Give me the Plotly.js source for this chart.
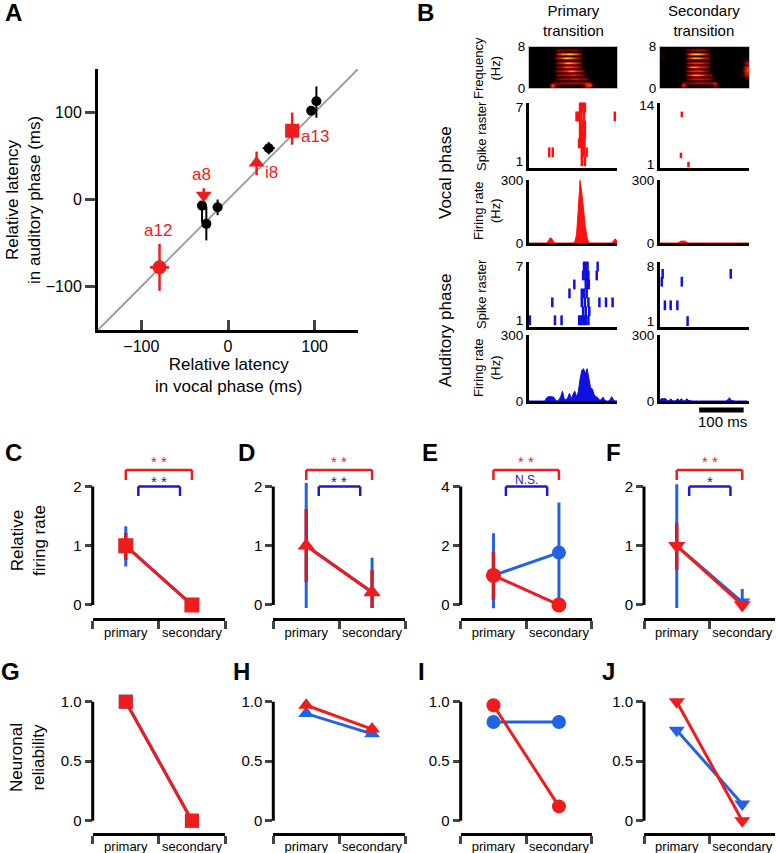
<!DOCTYPE html>
<html>
<head>
<meta charset="utf-8">
<script src="https://cdn.plot.ly/plotly-3.0.1.min.js"></script>
<style>body{margin:0;background:#fff}#plot{width:776px;height:853px}</style>
</head>
<body>
<div id="plot"></div>
<script>
var W = 776, H = 853;
var FONT = "Liberation Sans, Arial, sans-serif";
var RED = "#ee1c1c", BLUE = "#2262e4", DBLUE = "#1a1ad0", ERRRED = "#c8202e";

// ---- A: relative latency (ms) ----
var latVocalBlack = [102, 96, 47, -12, -30, -25];
var latAudBlack = [113, 102, 59, -9, -7, -28];
var errAudBlackUp = [17, 5, 7, 9, 5, 20];
var errAudBlackDn = [19, 5, 7, 9, 19, 19];
var errVocBlack = [0, 0, 7, 0, 5, 0];
var redNames = ["a12", "a8", "i8", "a13"];
var latVocalRed = [-79, -28, 33, 74];
var latAudRed = [-78, 5, 42, 79];
var errAudRedUp = [27, 8, 13, 21];
var errAudRedDn = [27, 5, 14, 16];
var errVocRed = [11, 0, 0, 0];
var redSymbols = ["circle", "triangle-down", "triangle-up", "square"];

// ---- B: spectrograms (rows bottom->top, 0..8 kHz; cols -100..100 ms) ----
var specPrim = [
  "0000003100000001300000000",
  "0000007321111112670000000",
  "0000002334444444530000000",
  "0000001111111111110000000",
  "0000000234445544300000000",
  "0000000111111111100000000",
  "0000000244556543000000000",
  "0000000111111111000000000",
  "0000000345688653000000000",
  "0000000111111111000000000",
  "0000000245776540000000000",
  "0000000111111110000000000",
  "0000000256897640000000000",
  "0000000111111110000000000",
  "0000000357987530000000000",
  "0000000121121110000000000",
  "0000000268898740000000000",
  "0000000121111110000000000",
  "0000000233333320000000000",
  "0000000111111110000000000"
];
var specSec = [
  "0000002000000002000000000",
  "0000006211111114000000000",
  "0000003334444445000000000",
  "0000001111111111000000000",
  "0000000245554430000000001",
  "0000000111111110000000013",
  "0000000368875430000000034",
  "0000000111111110000000025",
  "0000000356664300000000036",
  "0000000111111100000000026",
  "0000000378765400000000035",
  "0000000111111100000000013",
  "0000000356664400000000024",
  "0000000111111100000000012",
  "1000000368875400000000011",
  "1000000121111100000000000",
  "1000000379986400000000000",
  "0000000111111100000000000",
  "0000000234443200000000000",
  "0000000111111100000000000"
];

// spike rasters: time (ms) and trial
var rastVocPrimT = [16,20,23,27, 8,11,15,19,25,95, 16,20,24,27, 16,20,24,27, 14,18,22,26, -54,-46,20,25,31, 20,27];
var rastVocPrimN = [7,7,7,7, 6,6,6,6,6,6, 5,5,5,5, 4,4,4,4, 3,3,3,3, 2,2,2,2,2, 1,1];
var rastVocSecT = [-51, -53, -36];
var rastVocSecN = [12, 3, 1];
var rastAudPrimT = [25,29,33,56, 23,28,31,35,54, 3,29,33,36, -8,20,25,31, -47,20,27,35,60,75,90, 23,29,37, -98,-41,-26,14,17,21,25,29,35];
var rastAudPrimN = [7,7,7,7, 6,6,6,6,6, 5,5,5,5, 4,4,4,4, 3,3,3,3,3,3,3, 2,2,2, 1,1,1,1,1,1,1,1,1];
var rastAudSecT = [-94, 59, -96, -51, -89, -76, -61, -38];
var rastAudSecN = [7, 7, 6, 6, 3, 3, 3, 1];

// firing rate (Hz), 4 ms bins
var tBins = [-100,-96,-92,-88,-84,-80,-76,-72,-68,-64,-60,-56,-52,-48,-44,-40,-36,-32,-28,-24,-20,-16,-12,-8,-4,0,4,8,12,16,20,24,28,32,36,40,44,48,52,56,60,64,68,72,76,80,84,88,92,96,100];
var frVocPrim = [0,0,0,0,0,0,0,0,0,0,0, 10,25,20,5, 0,0,0,0,0,0,0,0,0,0,0, 5,40,160,300,240,150,80,25, 0,0,0,0,0,0,0,0,0,0,0,0,0,0, 10,20,10];
var frVocSec = [0,0,0,0,0,0,0,0,0,0,0, 5,10,8,10,4, 0,0,0,0,0,0,0,0,0,0,0,0,0,0,0,0,0,0,0,0,0,0,0,0,0,0,0,0,0,0,0,0,0,0,0];
var frAudPrim = [0,0,0,0,0,0,0,0,0,0, 15,20,20,20,18,5,0,5,20,45,10,5,15,35,10,30,45,20,40,100,140,148,125,148,100,60,55,30,20,15,5,5,18,5,0,0,5,20,5,0,0];
var frAudSec = [5,12,10,12,3,0,10,2,0,3,10,2,10,2,0,10,3, 0,0,0,0,0,0,0,0,0,0,0,0,0,0,0,0,0,0,0,0,0, 5,15,3, 0,0,0,0,0,0,0,0,0];

// ---- C-J ----
var cats = ["primary", "secondary"];
var neuronSymbols = ["square", "triangle-up", "circle", "triangle-down"];
var frRed = [[1, 0], [1, 0.21], [1, 0], [1, 0]];
var frRedUp = [[0.22, 0], [0.62, 0.38], [0.8, 0], [0.39, 0]];
var frRedDn = [[0.24, 0], [0.61, 0.26], [0.83, 0], [0.41, 0]];
var frBlue = [[1, 0], [1, 0.22], [1, 1.77], [1, 0.05]];
var frBlueUp = [[0.33, 0], [1.06, 0.58], [1.42, 1.69], [1.04, 0.22]];
var frBlueDn = [[0.35, 0], [1.05, 0.27], [1.11, 1.77], [1.05, 0.05]];
var frTop = [2, 2, 4, 2];
var sigRed = ["* *", "* *", "* *", "* *"];
var sigBlue = ["* *", "* *", "N.S.", "*"];
var relRed = [[1, 0], [0.97, 0.77], [0.97, 0.12], [1, 0]];
var relBlue = [[1, 0], [0.9, 0.73], [0.83, 0.83], [0.76, 0.14]];

function dx(a, b) { return [a / W, b / W]; }
function dy(top, bot) { return [1 - bot / H, 1 - top / H]; }

var layout = {
  width: W, height: H, margin: {l: 0, r: 0, t: 0, b: 0},
  showlegend: false, paper_bgcolor: "#fff", plot_bgcolor: "rgba(0,0,0,0)",
  font: {family: FONT, color: "#000"},
  shapes: [], annotations: []
};
var data = [];

function ann(text, x, y, size, extra) {
  var a = {text: text, xref: "paper", yref: "paper", x: x / W, y: 1 - y / H,
    showarrow: false, xanchor: "center", yanchor: "middle",
    font: {family: FONT, size: size, color: "#000"}};
  for (var k in extra) a[k] = extra[k];
  layout.annotations.push(a);
}
function letter(t, x, y) {
  ann("<b>" + t + "</b>", x, y, 24);
}

// ---- panel A ----
layout.xaxis = {domain: dx(98, 358), anchor: "y", range: [-150, 150], tickvals: [-100, 0, 100],
  ticks: "inside", ticklen: 10, tickwidth: 3, showline: true, linewidth: 3, linecolor: "#000",
  zeroline: false, showgrid: false, tickfont: {size: 16}};
layout.yaxis = {domain: dy(69, 330), anchor: "x", range: [-150, 150], tickvals: [-100, 0, 100],
  ticks: "outside", ticklen: 10, tickwidth: 3, showline: true, linewidth: 3, linecolor: "#000",
  zeroline: false, showgrid: false, tickfont: {size: 16}};
layout.shapes.push({type: "line", xref: "x", yref: "y", x0: -150, y0: -150, x1: 150, y1: 150,
  layer: "below", line: {color: "#a0a0a0", width: 2}});
data.push({type: "scatter", mode: "markers", x: latVocalBlack, y: latAudBlack, xaxis: "x", yaxis: "y",
  marker: {color: "#000", size: 10},
  error_y: {type: "data", symmetric: false, array: errAudBlackUp, arrayminus: errAudBlackDn, color: "#000", thickness: 2, width: 0},
  error_x: {type: "data", array: errVocBlack, color: "#000", thickness: 2, width: 0}});
data.push({type: "scatter", mode: "markers", x: latVocalRed, y: latAudRed, xaxis: "x", yaxis: "y",
  marker: {color: RED, size: 14, symbol: redSymbols},
  error_y: {type: "data", symmetric: false, array: errAudRedUp, arrayminus: errAudRedDn, color: RED, thickness: 2.5, width: 0},
  error_x: {type: "data", array: errVocRed, color: RED, thickness: 2.5, width: 0}});
var labShift = [[-2, 37], [-2, 21], [15, -10], [23, -6]];
for (var i = 0; i < redNames.length; i++) {
  layout.annotations.push({text: redNames[i], xref: "x", yref: "y", x: latVocalRed[i], y: latAudRed[i],
    xshift: labShift[i][0], yshift: labShift[i][1], showarrow: false,
    font: {family: FONT, size: 17, color: RED}});
}
letter("A", 13, 12);
ann("Relative latency<br>in vocal phase (ms)", 228, 375.5, 17);
ann("Relative latency<br>in auditory phase (ms)", 23, 200, 17, {textangle: -90});

// ---- panel B ----
var bCols = [[529, 617], [660, 749]];
var bRows = {spec: [46.7, 88.3], vocR: [103, 168], vocF: [180, 243], audR: [262, 327], audF: [335, 401]};
var axN = 2;
function bAxes(col, row, yopt, specStyle) {
  var n = axN++;
  var xa = {domain: dx(bCols[col][0], bCols[col][1]), anchor: "y" + n, range: [-100, 100],
    showticklabels: false, ticks: "", zeroline: false, showgrid: false, showline: true,
    linecolor: "#000", linewidth: 3};
  var ya = {domain: dy(bRows[row][0], bRows[row][1]), anchor: "x" + n, ticks: "",
    zeroline: false, showgrid: false, showline: true, linecolor: "#000", linewidth: 3,
    tickfont: {size: 13.5}};
  if (specStyle) {
    xa.linecolor = ya.linecolor = "#c0c0c0";
    xa.linewidth = ya.linewidth = 1;
    xa.mirror = ya.mirror = true;
  }
  for (var k in yopt) ya[k] = yopt[k];
  layout["xaxis" + n] = xa;
  layout["yaxis" + n] = ya;
  return n;
}
var specCS = [[0, "#000000"], [0.14, "#1e0000"], [0.3, "#6a0606"], [0.5, "#c81410"], [0.7, "#f04a10"], [0.85, "#ffae20"], [1, "#ffff60"]];
[specPrim, specSec].forEach(function (rows, c) {
  var n = bAxes(c, "spec", {range: [0, 8], tickvals: [0, 8]}, true);
  data.push({type: "heatmap", z: rows.map(function (r) { return r.split("").map(Number); }),
    x0: -96, dx: 8, y0: 0.2, dy: 0.4, zmin: 0, zmax: 9, colorscale: specCS, showscale: false,
    zsmooth: "best", xaxis: "x" + n, yaxis: "y" + n, hoverinfo: "skip"});
});
function raster(c, row, t, nTr, maxTr, color, size) {
  var n = bAxes(c, row, {range: [0.25, maxTr + 0.5], tickvals: [1, maxTr]});
  data.push({type: "scatter", mode: "markers", x: t, y: nTr, xaxis: "x" + n, yaxis: "y" + n,
    marker: {symbol: "line-ns", size: size, line: {color: color, width: 2.5}}, cliponaxis: false});
}
function rate(c, row, fr, color) {
  var n = bAxes(c, row, {range: [0, 302], tickvals: [0, 300]});
  data.push({type: "scatter", mode: "lines", x: tBins, y: fr, xaxis: "x" + n, yaxis: "y" + n,
    fill: "tozeroy", fillcolor: color, line: {color: color, width: 1}});
  return n;
}
raster(0, "vocR", rastVocPrimT, rastVocPrimN, 7, "#ff1010", 7);
raster(1, "vocR", rastVocSecT, rastVocSecN, 14, "#ff1010", 4);
rate(0, "vocF", frVocPrim, "#ff1010");
rate(1, "vocF", frVocSec, "#ff1010");
raster(0, "audR", rastAudPrimT, rastAudPrimN, 7, "#1010e0", 7);
raster(1, "audR", rastAudSecT, rastAudSecN, 8, "#1010e0", 7);
rate(0, "audF", frAudPrim, "#1010e0");
var nSec = rate(1, "audF", frAudSec, "#1010e0");
layout.shapes.push({type: "line", xref: "x" + nSec, yref: "paper", x0: -12, x1: 88,
  y0: 1 - 410 / H, y1: 1 - 410 / H, line: {color: "#000", width: 5}});
ann("100 ms", 722, 422, 15);

letter("B", 425, 12);
ann("Primary<br>transition", 573, 20.5, 15);
ann("Secondary<br>transition", 704, 20.5, 15);
ann("Frequency<br>(Hz)", 487, 68, 13, {textangle: -90});
ann("Spike raster", 481, 136, 13, {textangle: -90});
ann("Firing rate<br>(Hz)", 487, 211, 13, {textangle: -90});
ann("Spike raster", 481, 294, 13, {textangle: -90});
ann("Firing rate<br>(Hz)", 487, 368, 13, {textangle: -90});
ann("Vocal phase", 445, 172, 17, {textangle: -90});
ann("Auditory phase", 445, 330, 17, {textangle: -90});

// ---- panels C-J ----
var colX = [[92.7, 225], [273.3, 405], [460.7, 591.7], [644, 775]];
function catAxes(n, col, top, bot, yr, tv) {
  layout["xaxis" + n] = {domain: dx(colX[col][0], colX[col][1]), anchor: "y" + n, type: "category",
    categoryarray: cats, range: [-0.5, 1.5], tickson: "boundaries", ticks: "outside", ticklen: 8,
    tickwidth: 3, showline: true, linewidth: 3, linecolor: "#000", showgrid: false, zeroline: false,
    tickangle: 0, tickfont: {size: 13}};
  layout["yaxis" + n] = {domain: dy(top, bot), anchor: "x" + n, range: yr, tickvals: tv,
    ticks: "outside", ticklen: 7, tickwidth: 3, showline: false, showgrid: false, zeroline: false,
    tickfont: {size: 15}};
  layout.shapes.push({type: "line", xref: "paper", yref: "y" + n, x0: colX[col][0] / W, x1: colX[col][0] / W,
    y0: tv[0], y1: tv[tv.length - 1], line: {color: "#000", width: 3}});
}
function bracket(n, x0, x1, yLeg, yTop, color) {
  [[x0, yLeg, x0, yTop], [x0, yTop, x1, yTop], [x1, yTop, x1, yLeg]].forEach(function (s) {
    layout.shapes.push({type: "line", xref: "x" + n, yref: "y" + n, x0: s[0], y0: s[1], x1: s[2], y1: s[3],
      line: {color: color, width: 2.5}});
  });
}
var lettersTop = ["C", "D", "E", "F"], lettersBot = ["G", "H", "I", "J"];
var letterXTop = [14, 246, 430, 613], letterXBot = [10, 241, 422, 608];
for (var p = 0; p < 4; p++) {
  var n = 12 + p, s = frTop[p] / 2;
  catAxes(n, p, 457, 618.3, [-0.225 * s, 2.5 * s], [0, s, 2 * s]);
  data.push({type: "scatter", mode: "lines+markers", x: cats, y: frBlue[p], xaxis: "x" + n, yaxis: "y" + n,
    line: {color: BLUE, width: 3}, marker: {color: BLUE, size: 14, symbol: neuronSymbols[p]}, cliponaxis: false,
    error_y: {type: "data", symmetric: false, array: frBlueUp[p], arrayminus: frBlueDn[p], color: BLUE, thickness: 3, width: 0}});
  data.push({type: "scatter", mode: "lines+markers", x: cats, y: frRed[p], xaxis: "x" + n, yaxis: "y" + n,
    line: {color: RED, width: 3}, marker: {color: RED, size: 15, symbol: neuronSymbols[p]}, cliponaxis: false,
    error_y: {type: "data", symmetric: false, array: frRedUp[p], arrayminus: frRedDn[p], color: ERRRED, thickness: 3.5, width: 0}});
  bracket(n, 0, 1, 2.11 * s, 2.28 * s, RED);
  bracket(n, 0.19, 0.82, 1.84 * s, 2.0 * s, DBLUE);
  layout.annotations.push({text: sigRed[p], xref: "x" + n, yref: "y" + n, x: 0.5, y: 2.28 * s,
    yanchor: "bottom", yshift: -2, showarrow: false, font: {family: FONT, size: 15, color: RED}});
  var sb = sigBlue[p] === "N.S.";
  layout.annotations.push({text: sigBlue[p], xref: "x" + n, yref: "y" + n, x: 0.5, y: 2.0 * s,
    yanchor: "bottom", yshift: sb ? -2 : -5, showarrow: false, font: {family: FONT, size: sb ? 12 : 15, color: DBLUE}});
  letter(lettersTop[p], letterXTop[p], 452);

  var m = 16 + p;
  catAxes(m, p, 689.8, 832.6, [-0.1, 1.1], [0, 0.5, 1]);
  layout["yaxis" + m].ticktext = ["0", "0.5", "1.0"];
  data.push({type: "scatter", mode: "lines+markers", x: cats, y: relBlue[p], xaxis: "x" + m, yaxis: "y" + m,
    line: {color: BLUE, width: 3}, marker: {color: BLUE, size: 14, symbol: neuronSymbols[p]}, cliponaxis: false});
  data.push({type: "scatter", mode: "lines+markers", x: cats, y: relRed[p], xaxis: "x" + m, yaxis: "y" + m,
    line: {color: RED, width: 3}, marker: {color: RED, size: 14, symbol: neuronSymbols[p]}, cliponaxis: false});
  letter(lettersBot[p], letterXBot[p], 671);
}
ann("Relative<br>firing rate", 28, 540, 17, {textangle: -90});
ann("Neuronal<br>reliability", 27, 758, 17, {textangle: -90});

Plotly.newPlot("plot", data, layout, {staticPlot: true});
</script>
</body>
</html>
